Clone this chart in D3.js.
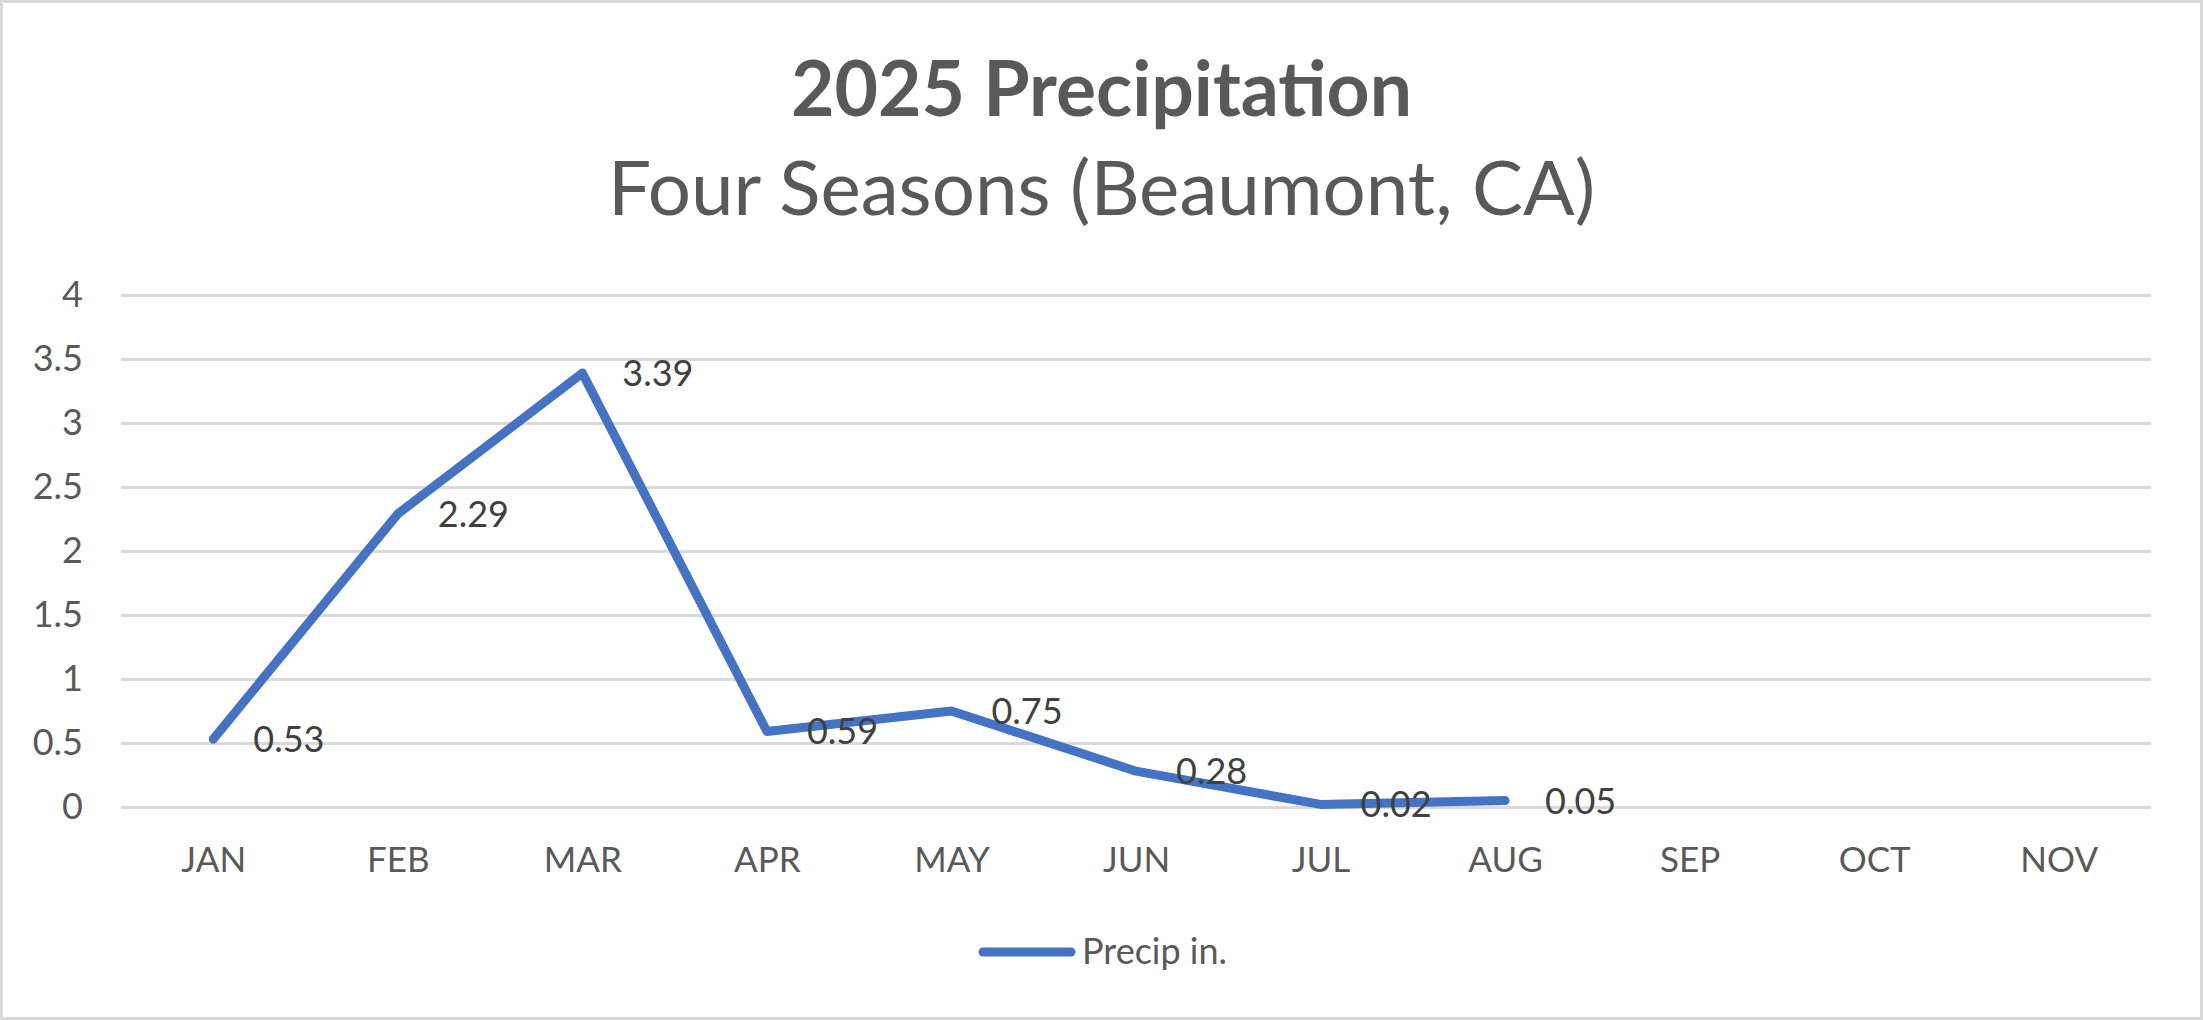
<html>
<head>
<meta charset="utf-8">
<title>2025 Precipitation</title>
<style>
  body { margin: 0; background: #fff; }
  text { font-family: Lato, "Open Sans", sans-serif; }
</style>
</head>
<body>
<div id="chart"></div>
<script src="https://d3js.org/d3.v7.min.js"></script>
<script type="text/javascript">

// chart data
var months = ["JAN", "FEB", "MAR", "APR", "MAY", "JUN", "JUL", "AUG", "SEP", "OCT", "NOV"];
var precip = [0.53, 2.29, 3.39, 0.59, 0.75, 0.28, 0.02, 0.05, null, null, null];
var yTicks = [0, 0.5, 1, 1.5, 2, 2.5, 3, 3.5, 4];
var seriesName = "Precip in.";

var W = 2203, H = 1020;
// plot area (note: "top" is a reserved window property, so prefix these)
var plotLeft = 121, plotRight = 2151, plotTop = 295, plotBottom = 807;

var svg = d3.select("#chart").append("svg")
    .attr("width", W)
    .attr("height", H);

// outer frame
svg.append("rect")
    .attr("x", 1.5).attr("y", 1.5)
    .attr("width", W - 3).attr("height", H - 3)
    .attr("fill", "#fff")
    .attr("stroke", "#d9d9d9")
    .attr("stroke-width", 3);

var x = d3.scalePoint()
    .domain(months)
    .range([plotLeft, plotRight])
    .padding(0.5);

var y = d3.scaleLinear()
    .domain([0, 4])
    .range([plotBottom, plotTop]);

// gridlines + y labels
var yAxis = svg.append("g")
    .attr("transform", "translate(" + plotLeft + ",0)")
    .call(d3.axisLeft(y).tickValues(yTicks).tickSize(-(plotRight - plotLeft)).tickPadding(38).tickFormat(d3.format("")));
yAxis.select(".domain").remove();
yAxis.selectAll(".tick line").attr("stroke", "#d9d9d9").attr("stroke-width", 3);
yAxis.selectAll(".tick text")
    .attr("fill", "#595959")
    .style("font-size", "36px")
    .style("font-family", "Lato, 'Open Sans', sans-serif");

// x labels
var xAxis = svg.append("g")
    .attr("transform", "translate(0," + plotBottom + ")")
    .call(d3.axisBottom(x).tickSize(0).tickPadding(40));
xAxis.select(".domain").remove();
xAxis.selectAll(".tick text")
    .attr("fill", "#595959")
    .style("font-size", "35px")
    .style("font-family", "Lato, 'Open Sans', sans-serif");

// the line
var pts = months.map(function(m, i) { return { m: m, v: precip[i] }; });
var line = d3.line()
    .defined(function(d) { return d.v != null; })
    .x(function(d) { return x(d.m); })
    .y(function(d) { return y(d.v); });

svg.append("path")
    .datum(pts)
    .attr("d", line)
    .attr("fill", "none")
    .attr("stroke", "#4472c4")
    .attr("stroke-width", 9)
    .attr("stroke-linecap", "round")
    .attr("stroke-linejoin", "round");

// value labels, to the right of each point
svg.selectAll(".vlabel")
    .data(pts.filter(function(d) { return d.v != null; }))
    .enter()
    .append("text")
    .attr("class", "vlabel")
    .attr("x", function(d) { return x(d.m) + 40; })
    .attr("y", function(d) { return y(d.v) + 13; })
    .attr("fill", "#404040")
    .style("font-size", "36px")
    .text(function(d) { return d.v.toFixed(2); });

// titles
svg.append("text")
    .attr("x", W / 2).attr("y", 116)
    .attr("text-anchor", "middle")
    .attr("fill", "#595959")
    .style("font-size", "76px")
    .style("font-weight", "bold")
    .attr("textLength", 621)
    .attr("lengthAdjust", "spacingAndGlyphs")
    .text("2025 Precipitation");

svg.append("text")
    .attr("x", W / 2).attr("y", 215)
    .attr("text-anchor", "middle")
    .attr("fill", "#595959")
    .style("font-size", "76px")
    .attr("textLength", 987)
    .attr("lengthAdjust", "spacingAndGlyphs")
    .text("Four Seasons (Beaumont, CA)");

// legend
svg.append("line")
    .attr("x1", 983).attr("x2", 1071)
    .attr("y1", 952).attr("y2", 952)
    .attr("stroke", "#4472c4")
    .attr("stroke-width", 9)
    .attr("stroke-linecap", "round");

svg.append("text")
    .attr("x", 1082).attr("y", 964)
    .attr("fill", "#595959")
    .style("font-size", "36px")
    .text(seriesName);

</script>
</body>
</html>
